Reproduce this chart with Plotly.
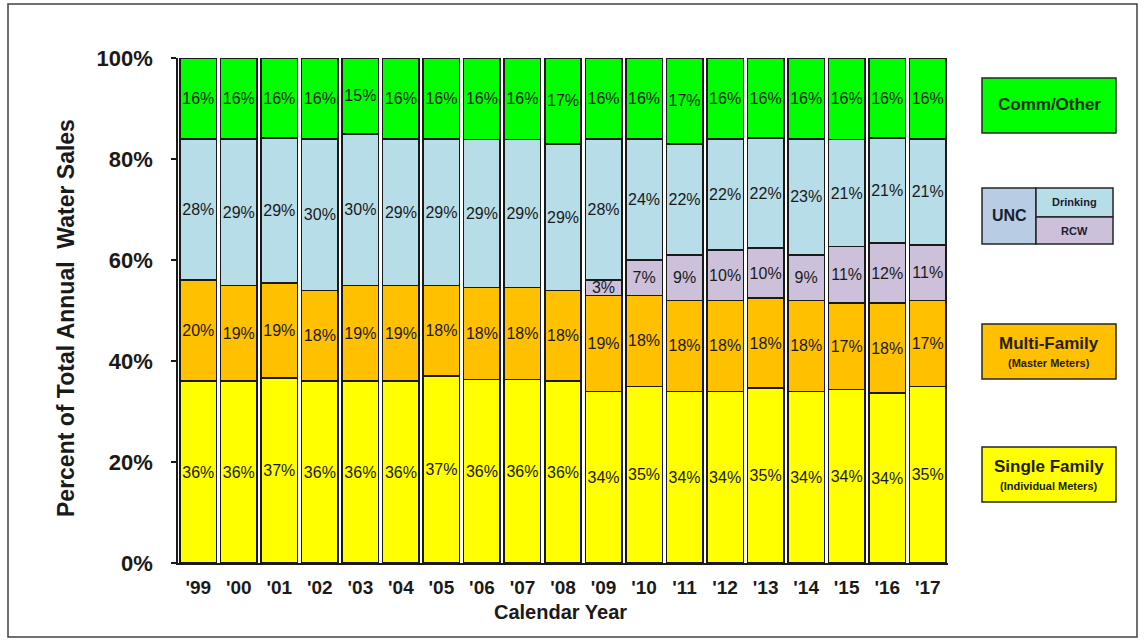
import plotly.graph_objects as go

# Calendar years (category labels on the x axis)
years = ["'99", "'00", "'01", "'02", "'03", "'04", "'05", "'06", "'07", "'08",
         "'09", "'10", "'11", "'12", "'13", "'14", "'15", "'16", "'17"]

# Share of total annual water sales, percent
single_family = [36, 36, 37, 36, 36, 36, 37, 36, 36, 36, 34, 35, 34, 34, 35, 34, 34, 34, 35]
multi_family = [20, 19, 19, 18, 19, 19, 18, 18, 18, 18, 19, 18, 18, 18, 18, 18, 17, 18, 17]
unc_rcw = [None, None, None, None, None, None, None, None, None, None,
           3, 7, 9, 10, 10, 9, 11, 12, 11]
unc_drinking = [28, 29, 29, 30, 30, 29, 29, 29, 29, 29, 28, 24, 22, 22, 22, 23, 21, 21, 21]
comm_other = [16, 16, 16, 16, 15, 16, 16, 16, 16, 17, 16, 16, 17, 16, 16, 16, 16, 16, 16]

y_ticks = [0, 20, 40, 60, 80, 100]

series = [
    ("Single Family", single_family, "#FFFF00"),
    ("Multi-Family", multi_family, "#FFC000"),
    ("RCW", unc_rcw, "#CCC0DA"),
    ("Drinking", unc_drinking, "#B7DDE8"),
    ("Comm/Other", comm_other, "#00FF00"),
]

FONT = "Liberation Sans, Arial, sans-serif"
W, H = 1145, 640
L, R, T, B = 178, 197, 58, 77
PW, PH = W - L - R, H - T - B


def px(x):
    return (x - L) / PW


def py(y):
    return (H - B - y) / PH


fig = go.Figure()
for name, vals, color in series:
    fig.add_trace(go.Bar(
        x=years,
        y=vals,
        name=name,
        marker=dict(color=color, line=dict(color="#1a1a1a", width=1.5)),
        text=["" if v is None else f"{v}%" for v in vals],
        textposition="inside",
        insidetextanchor="middle",
        textangle=0,
        constraintext="none",
        textfont=dict(family=FONT, size=16, color="#1a1a1a"),
        showlegend=False,
        hoverinfo="skip",
    ))

shapes = []
annotations = []

# Outer frame
shapes.append(dict(type="rect", xref="paper", yref="paper",
                   x0=px(8), x1=px(1137), y0=py(4), y1=py(637),
                   line=dict(color="#404040", width=1.5), fillcolor="rgba(0,0,0,0)"))


def box(x0, y0, x1, y1, fill):
    shapes.append(dict(type="rect", xref="paper", yref="paper",
                       x0=px(x0), x1=px(x1), y0=py(y0), y1=py(y1),
                       line=dict(color="#262626", width=1.5), fillcolor=fill, layer="above"))


def label(x, y, text, size, color="#1a1a1a"):
    annotations.append(dict(x=px(x), y=py(y), xref="paper", yref="paper",
                            text=text, showarrow=False,
                            xanchor="center", yanchor="middle",
                            font=dict(family=FONT, size=size, color=color, weight="bold")))


# Key boxes on the right
box(982, 78, 1116, 133, "#00FF00")
label(1049, 105, "Comm/Other", 17, "#123012")

box(982, 188, 1036, 244, "#B8CCE4")
box(1036, 188, 1113, 217, "#B7DDE8")
box(1036, 217, 1113, 244, "#CCC0DA")
label(1009, 216, "UNC", 16, "#1a2030")
label(1074, 202, "Drinking", 11, "#1a2030")
label(1074, 231, "RCW", 11, "#1a2030")

box(982, 324, 1116, 379, "#FFC000")
label(1049, 343, "Multi-Family", 17, "#2a1e00")
label(1049, 363, "(Master Meters)", 11, "#2a1e00")

box(982, 447, 1116, 502, "#FFFF00")
label(1049, 466, "Single Family", 17, "#202000")
label(1049, 486, "(Individual Meters)", 11, "#202000")

# Axis titles
annotations.append(dict(x=px(66), y=py(318), xref="paper", yref="paper",
                        text="Percent of Total Annual  Water Sales", textangle=-90,
                        showarrow=False, xanchor="center", yanchor="middle",
                        font=dict(family=FONT, size=23, color="#1a1a1a", weight="bold")))
annotations.append(dict(x=px(560), y=py(612), xref="paper", yref="paper",
                        text="Calendar Year", showarrow=False,
                        xanchor="center", yanchor="middle",
                        font=dict(family=FONT, size=20, color="#1a1a1a", weight="bold")))

fig.update_layout(
    width=W, height=H,
    margin=dict(l=L, r=R, t=T, b=B, pad=0),
    barmode="stack",
    barnorm="percent",
    bargap=0.1,
    plot_bgcolor="white",
    paper_bgcolor="white",
    shapes=shapes,
    annotations=annotations,
    xaxis=dict(
        type="category",
        range=[-0.5, len(years) - 0.5],
        showline=True, linecolor="#1a1a1a", linewidth=1.5,
        ticks="", showgrid=False, zeroline=False,
        tickfont=dict(family=FONT, size=19, color="#1a1a1a", weight="bold"),
        ticklabelstandoff=6,
    ),
    yaxis=dict(
        range=[0, 100],
        tickvals=y_ticks,
        ticktext=[f"{v}%" for v in y_ticks],
        showline=True, linecolor="#1a1a1a", linewidth=1.5,
        ticks="outside", ticklen=5, tickcolor="#1a1a1a", tickwidth=1.5,
        showgrid=False, zeroline=False,
        tickfont=dict(family=FONT, size=22, color="#1a1a1a", weight="bold"),
        ticklabelstandoff=14,
    ),
)

fig.write_html("out.html")
